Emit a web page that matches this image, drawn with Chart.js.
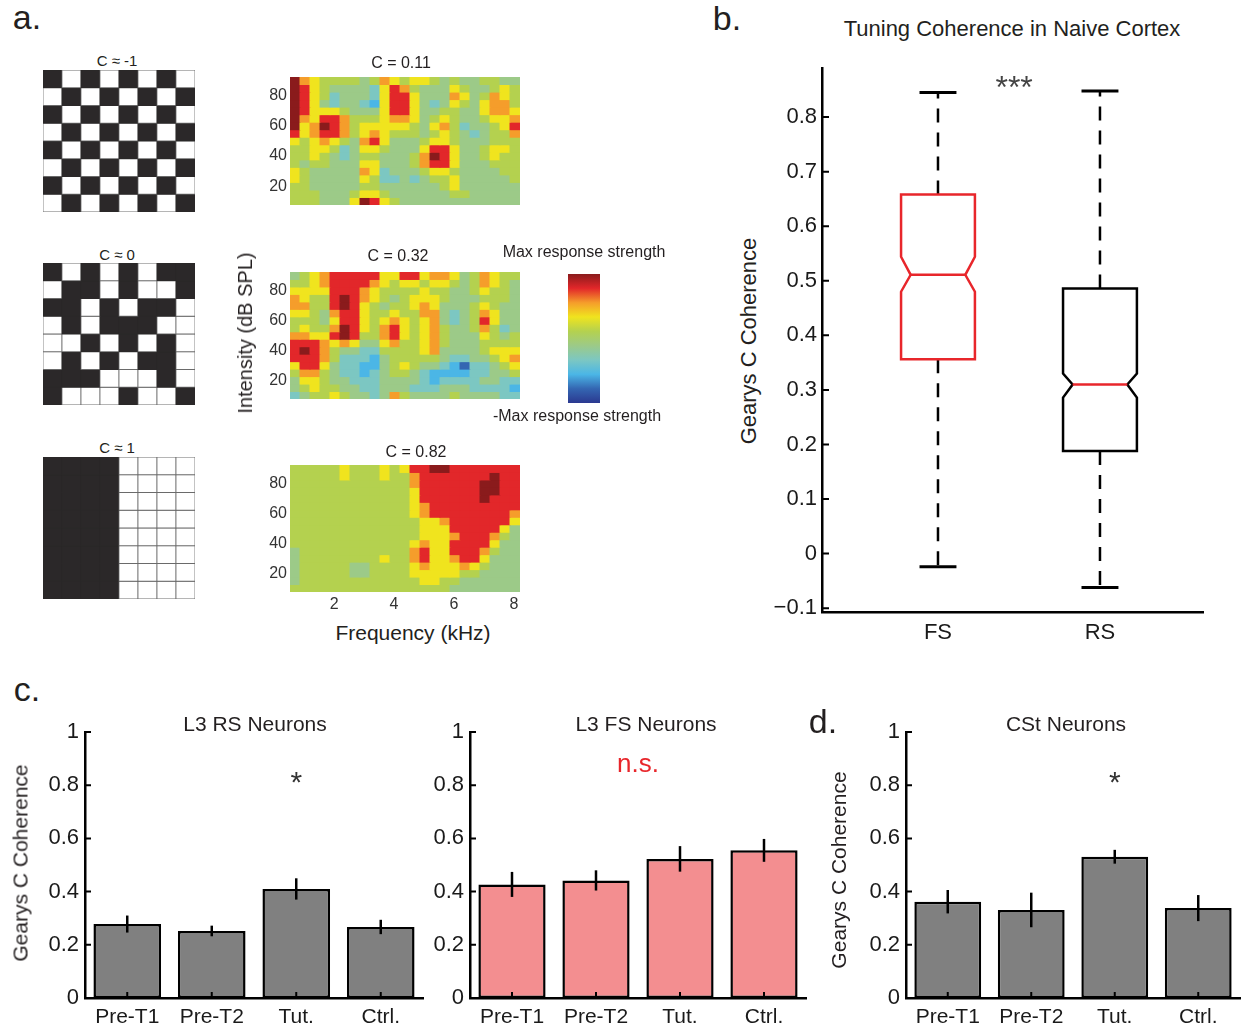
<!DOCTYPE html>
<html>
<head>
<meta charset="utf-8">
<script src="https://cdn.jsdelivr.net/npm/chart.js@4.4.0/dist/chart.umd.min.js"></script>
<style>
  body { margin: 0; width: 1244px; height: 1030px; position: relative; overflow: hidden; background: #fff;
         font-family: "Liberation Sans", Arial, sans-serif; }
  .box { position: absolute; }
  .t { position: absolute; white-space: nowrap; line-height: 1; color: #231f20; transform: translate(-50%, -50%); }
  .t.v { transform: translate(-50%, -50%) rotate(-90deg); }
</style>
</head>
<body>
<script>
// ---- panel a: example patterns (1 = black square)
const boardTitles = ['C \u2248 -1', 'C \u2248 0', 'C \u2248 1'];
const board1 = ['10101010', '01010101', '10101010', '01010101', '10101010', '01010101', '10101010', '01010101'];
const board2 = ['10101011', '01101001', '11010110', '01011100', '00101010', '01010110', '11100010', '10001001'];
const board3 = ['11110000', '11110000', '11110000', '11110000', '11110000', '11110000', '11110000', '11110000'];

// ---- panel a: tuning maps, colour level 0 (-max) .. 9 (+max), top row = 90 dB
const heatTitles = ['C = 0.11', 'C = 0.32', 'C = 0.82'];
const freqBins = ['0.70', '1.03', '1.36', '1.70', '2.03', '2.37', '2.70', '3.03', '3.37', '3.70', '4.04', '4.37',
                  '4.70', '5.04', '5.37', '5.70', '6.04', '6.37', '6.70', '7.04', '7.37', '7.70', '8.03'];
const dbLevels = [90, 85, 80, 75, 70, 65, 60, 55, 50, 45, 40, 35, 30, 25, 20, 15, 10];
const freqTicks = [2, 4, 6, 8];
const dbTicks = [20, 40, 60, 80];
const heat1 = [
  '97655 55457 65665 45445 544',
  '98654 44436 87544 46544 565',
  '98653 44436 88644 47645 765',
  '98643 44326 88643 46546 775',
  '98666 54446 88644 55446 776',
  '97688 75556 77645 65445 667',
  '96798 75666 66546 75344 568',
  '86788 75676 55545 65434 557',
  '65676 54786 44456 65444 555',
  '55665 34665 44468 86445 665',
  '55654 34554 44579 86445 655',
  '54554 44664 44578 86444 555',
  '65444 44763 44456 65444 455',
  '65444 44653 34345 56444 445',
  '55444 44554 44444 56444 444',
  '55544 45665 44444 45544 444',
  '55544 46986 54444 44444 444'
];
const heat2 = [
  '45678 88886 68867 76457 655',
  '55678 88876 56656 65457 654',
  '66668 88765 55565 54456 554',
  '76558 98765 45666 54445 554',
  '77558 98654 55676 44456 544',
  '66547 88655 65577 43457 644',
  '55546 88656 76567 43458 644',
  '56557 98657 86567 54457 534',
  '77668 98557 86567 54446 545',
  '88876 76446 75567 54445 555',
  '89875 44335 55567 44445 666',
  '88875 33324 55555 43344 567',
  '68864 33224 56544 32133 456',
  '57754 33234 55432 22233 445',
  '46654 43334 44432 33334 433',
  '45655 44334 44333 44433 332',
  '34556 54434 75444 45444 433'
];
const heat3 = [
  '55555 65556 56889 98888 888',
  '55555 65556 55788 88888 988',
  '55555 55555 55788 88889 988',
  '55555 55555 55688 88889 988',
  '55555 55555 55688 88889 888',
  '55555 55555 55678 88888 888',
  '55555 55555 55678 88888 887',
  '55555 55555 55566 78888 886',
  '55555 55555 55566 68888 864',
  '55555 55555 55566 67888 754',
  '55555 55555 55676 68888 644',
  '45555 55555 55786 68887 544',
  '45555 55556 55786 67886 444',
  '45555 54455 55676 66765 444',
  '45555 54455 55666 66554 444',
  '45555 55555 55566 55444 444',
  '55555 55555 55555 54444 444'
];
const cmap = ['#2b3990', '#3466b2', '#4bb6e6', '#7cc7c2', '#9cca88', '#b4d14f', '#f0e41e', '#f59d2b', '#e2272a', '#8a1b1c'];

// ---- panel b: box plot
const boxLabels = ['FS', 'RS'];
const boxLow = [-0.024, -0.062];
const boxQ1 = [0.356, 0.188];
const boxMed = [0.511, 0.310];
const boxQ3 = [0.658, 0.486];
const boxHigh = [0.845, 0.848];
const notchLo = [0.480, 0.286];
const notchHi = [0.544, 0.330];
const boxColors = ['#e8262b', '#000000'];
const boxTicks = [-0.1, 0, 0.1, 0.2, 0.3, 0.4, 0.5, 0.6, 0.7, 0.8];
const boxTickLabels = ['\u22120.1', '0', '0.1', '0.2', '0.3', '0.4', '0.5', '0.6', '0.7', '0.8'];

// ---- panels c, d: bar charts
const groups = ['Pre-T1', 'Pre-T2', 'Tut.', 'Ctrl.'];
const rsMean = [0.278, 0.252, 0.410, 0.267];
const rsErr = [0.032, 0.020, 0.040, 0.027];
const fsMean = [0.427, 0.442, 0.523, 0.555];
const fsErr = [0.047, 0.038, 0.048, 0.043];
const cstMean = [0.362, 0.331, 0.531, 0.338];
const cstErr = [0.044, 0.065, 0.026, 0.049];
const barTicks = [0, 0.1, 0.2, 0.3, 0.4, 0.5, 0.6, 0.7, 0.8, 0.9, 1];
const barTickLabels = ['0', '', '0.2', '', '0.4', '', '0.6', '', '0.8', '', '1'];

const FONT = '"Liberation Sans", Arial, sans-serif';
const ink = '#2b2829';

Chart.defaults.font.family = FONT;
Chart.defaults.color = '#1a1a1a';
Chart.defaults.animation = false;
Chart.defaults.events = [];
Chart.defaults.responsive = true;
Chart.defaults.maintainAspectRatio = false;
Chart.defaults.plugins.legend.display = false;
Chart.defaults.plugins.tooltip.enabled = false;

function place(left, top, w, h) {
  const d = document.createElement('div');
  d.className = 'box';
  d.style.cssText = `left:${left}px;top:${top}px;width:${w}px;height:${h}px`;
  const c = document.createElement('canvas');
  d.appendChild(c);
  document.body.appendChild(d);
  return c;
}

function txt(s, x, y, size, opts = {}) {
  const d = document.createElement('div');
  d.className = 't' + (opts.rot ? ' v' : '');
  d.textContent = s;
  d.style.left = x + 'px';
  d.style.top = y + 'px';
  d.style.fontSize = size + 'px';
  if (opts.color) d.style.color = opts.color;
  document.body.appendChild(d);
}

// matlab style ticks pointing into the plot
const inwardTicks = {
  id: 'inwardTicks',
  afterDraw(chart, args, o) {
    if (!o.len) return;
    const { ctx, chartArea, scales: { x, y } } = chart;
    ctx.save();
    ctx.strokeStyle = '#000';
    ctx.lineWidth = 2;
    ctx.beginPath();
    y.ticks.forEach(t => {
      const py = y.getPixelForValue(t.value);
      ctx.moveTo(chartArea.left, py);
      ctx.lineTo(chartArea.left + o.len, py);
    });
    if (o.x) {
      x.ticks.forEach((t, i) => {
        const px = x.getPixelForTick(i);
        ctx.moveTo(px, chartArea.bottom);
        ctx.lineTo(px, chartArea.bottom - o.len);
      });
    }
    ctx.stroke();
    ctx.restore();
  }
};

const errorBars = {
  id: 'errorBars',
  afterDatasetsDraw(chart, args, o) {
    const { ctx } = chart;
    const y = chart.scales.y;
    const values = chart.data.datasets[0].data;
    ctx.save();
    ctx.strokeStyle = '#000';
    ctx.lineWidth = 2.5;
    chart.getDatasetMeta(0).data.forEach((bar, i) => {
      ctx.beginPath();
      ctx.moveTo(bar.x, y.getPixelForValue(values[i] - o.errs[i]));
      ctx.lineTo(bar.x, y.getPixelForValue(values[i] + o.errs[i]));
      ctx.stroke();
    });
    ctx.restore();
  }
};

const marks = {
  id: 'marks',
  afterDraw(chart, args, o) {
    const { ctx, scales: { x, y } } = chart;
    (o.items || []).forEach(m => {
      ctx.save();
      ctx.font = `${m.size}px ${FONT}`;
      ctx.fillStyle = m.color;
      ctx.textAlign = 'center';
      ctx.textBaseline = 'alphabetic';
      const tm = ctx.measureText(m.text);
      const py = y.getPixelForValue(m.y) + (tm.actualBoundingBoxAscent - tm.actualBoundingBoxDescent) / 2;
      ctx.fillText(m.text, x.getPixelForValue(m.x), py);
      ctx.restore();
    });
  }
};

const notchedBoxes = {
  id: 'notchedBoxes',
  afterDatasetsDraw(chart, args, o) {
    const { ctx, scales: { x, y } } = chart;
    const py = v => y.getPixelForValue(v);
    ctx.save();
    boxLabels.forEach((lab, i) => {
      const cx = x.getPixelForValue(i + 1);
      const hw = x.getPixelForValue(i + 1 + o.halfWidth) - cx;
      const nw = hw * o.notch;
      ctx.strokeStyle = '#000';
      ctx.lineWidth = 2.5;
      ctx.setLineDash(o.dash);
      ctx.beginPath();
      ctx.moveTo(cx, py(boxQ3[i])); ctx.lineTo(cx, py(boxHigh[i]));
      ctx.moveTo(cx, py(boxQ1[i])); ctx.lineTo(cx, py(boxLow[i]));
      ctx.stroke();
      ctx.setLineDash([]);
      ctx.lineWidth = 3;
      ctx.beginPath();
      ctx.moveTo(cx - hw / 2, py(boxHigh[i])); ctx.lineTo(cx + hw / 2, py(boxHigh[i]));
      ctx.moveTo(cx - hw / 2, py(boxLow[i])); ctx.lineTo(cx + hw / 2, py(boxLow[i]));
      ctx.stroke();
      ctx.strokeStyle = boxColors[i];
      ctx.lineWidth = 2.5;
      ctx.fillStyle = '#fff';
      ctx.beginPath();
      ctx.moveTo(cx - hw, py(boxQ1[i]));
      ctx.lineTo(cx - hw, py(notchLo[i]));
      ctx.lineTo(cx - nw, py(boxMed[i]));
      ctx.lineTo(cx - hw, py(notchHi[i]));
      ctx.lineTo(cx - hw, py(boxQ3[i]));
      ctx.lineTo(cx + hw, py(boxQ3[i]));
      ctx.lineTo(cx + hw, py(notchHi[i]));
      ctx.lineTo(cx + nw, py(boxMed[i]));
      ctx.lineTo(cx + hw, py(notchLo[i]));
      ctx.lineTo(cx + hw, py(boxQ1[i]));
      ctx.closePath();
      ctx.fill();
      ctx.stroke();
      ctx.strokeStyle = '#e8262b';
      ctx.beginPath();
      ctx.moveTo(cx - nw, py(boxMed[i])); ctx.lineTo(cx + nw, py(boxMed[i]));
      ctx.stroke();
    });
    ctx.restore();
  }
};

// ---------- panel a
function board(rows, left, top) {
  const canvas = place(left, top, 152, 142);
  const n = rows.length;
  const datasets = rows.map((r, i) => {
    const cells = r.split('').map(Number);
    return {
      data: cells.map(() => [n - 1 - i, n - i]),
      backgroundColor: cells.map(c => c ? ink : '#fff'),
      borderColor: cells.map(c => c ? ink : '#6a6a6a')
    };
  });
  new Chart(canvas, {
    type: 'bar',
    data: { labels: rows[0].split('').map((c, i) => String(i + 1)), datasets },
    options: {
      layout: { padding: 0 },
      datasets: { bar: { grouped: false, barPercentage: 1, categoryPercentage: 1, borderWidth: 1,
                         borderSkipped: false, inflateAmount: 0.6 } },
      scales: { x: { display: false }, y: { display: false, min: 0, max: n } }
    }
  });
}

function heatmap(rows, top, h, showX) {
  const canvas = place(254, top - 14, 270, 14 + h + (showX ? 26 : 14));
  const datasets = rows.map((r, i) => {
    const vals = r.replace(/ /g, '').split('').map(Number);
    return {
      data: vals.map(() => [dbLevels[i] - 2.5, dbLevels[i] + 2.5]),
      backgroundColor: vals.map(v => cmap[v])
    };
  });
  new Chart(canvas, {
    type: 'bar',
    data: { labels: freqBins, datasets },
    options: {
      layout: { padding: { top: 14, right: 4, bottom: showX ? 0 : 14, left: 0 } },
      datasets: { bar: { grouped: false, barPercentage: 1, categoryPercentage: 1, borderWidth: 0, inflateAmount: 0.5 } },
      scales: {
        x: { display: false },
        kx: {
          type: 'linear', position: 'bottom', display: showX, min: 0.53, max: 8.2,
          offset: false, beginAtZero: false,
          afterBuildTicks: s => { s.ticks = freqTicks.map(v => ({ value: v })); },
          grid: { display: false, drawTicks: false, offset: false }, border: { display: false },
          ticks: { font: { size: 16 }, color: '#333', padding: 3 },
          afterFit: s => { if (showX) s.height = 26; }
        },
        y: {
          min: 7.5, max: 92.5,
          afterBuildTicks: s => { s.ticks = dbTicks.map(v => ({ value: v })); },
          grid: { display: false, drawTicks: false }, border: { display: false },
          ticks: { font: { size: 16 }, color: '#333', padding: 3 },
          afterFit: s => { s.width = 36; }
        }
      }
    }
  });
}

board(board1, 43, 70);
board(board2, 43, 263);
board(board3, 43, 457);
heatmap(heat1, 77, 128, false);
heatmap(heat2, 272, 127, false);
heatmap(heat3, 465, 127, true);

new Chart(place(568, 274, 32, 129), {
  type: 'bar',
  data: {
    labels: [''],
    datasets: [{
      data: [[0, 1]],
      backgroundColor: c => {
        const area = c.chart.chartArea;
        if (!area) return cmap[5];
        const g = c.chart.ctx.createLinearGradient(0, area.bottom, 0, area.top);
        cmap.forEach((col, i) => g.addColorStop(i / (cmap.length - 1), col));
        return g;
      },
      borderWidth: 0, barPercentage: 1, categoryPercentage: 1
    }]
  },
  options: { layout: { padding: 0 }, scales: { x: { display: false }, y: { display: false, min: 0, max: 1 } } }
});

// ---------- panel b
new Chart(place(770, 48, 453, 604), {
  type: 'scatter',
  data: { datasets: [] },
  options: {
    layout: { padding: { top: 20, right: 20, bottom: 0, left: 0 } },
    scales: {
      x: {
        type: 'linear', min: 0.284, max: 2.636,
        afterBuildTicks: s => { s.ticks = boxLabels.map((l, i) => ({ value: i + 1 })); },
        grid: { display: false, drawTicks: false }, border: { color: '#000', width: 2.5 },
        ticks: { font: { size: 22 }, padding: 8, callback: v => boxLabels[v - 1] },
        afterFit: s => { s.height = 40; }
      },
      y: {
        min: -0.107, max: 0.89,
        afterBuildTicks: s => { s.ticks = boxTicks.map(v => ({ value: v })); },
        grid: { display: false, drawTicks: false }, border: { color: '#000', width: 2.5 },
        ticks: { font: { size: 22 }, padding: 5, callback: (v, i) => boxTickLabels[i] },
        afterFit: s => { s.width = 52; }
      }
    },
    plugins: {
      notchedBoxes: { halfWidth: 0.228, notch: 0.74, dash: [14, 10] },
      inwardTicks: { len: 7, x: false },
      marks: { items: [{ x: 1.47, y: 0.865, text: '***', size: 32, color: '#444' }] }
    }
  },
  plugins: [notchedBoxes, inwardTicks, marks]
});

// ---------- panels c, d
function barPanel(axisLeft, width, means, errs, fill, items) {
  new Chart(place(axisLeft - 55, 712, width, 318), {
    type: 'bar',
    data: {
      labels: groups,
      datasets: [{
        data: means, backgroundColor: fill, borderColor: '#000', borderWidth: 2.5,
        borderSkipped: false, barPercentage: 0.8, categoryPercentage: 1
      }]
    },
    options: {
      layout: { padding: { top: 20, right: 4, bottom: 0, left: 0 } },
      scales: {
        x: {
          grid: { display: false, drawTicks: false }, border: { color: '#000', width: 2.5 },
          ticks: { font: { size: 21 }, padding: 7, maxRotation: 0 },
          afterFit: s => { s.height = 32; }
        },
        y: {
          min: 0, max: 1,
          afterBuildTicks: s => { s.ticks = barTicks.map(v => ({ value: v })); },
          grid: { display: false, drawTicks: false }, border: { color: '#000', width: 2.5 },
          ticks: { font: { size: 22 }, padding: 6, callback: (v, i) => barTickLabels[i] },
          afterFit: s => { s.width = 55; }
        }
      },
      plugins: {
        errorBars: { errs },
        inwardTicks: { len: 6, x: true },
        marks: { items }
      }
    },
    plugins: [errorBars, inwardTicks, marks]
  });
}

barPanel(85, 397, rsMean, rsErr, '#808080', [{ x: 2, y: 0.83, text: '*', size: 30, color: '#333' }]);
barPanel(470, 395, fsMean, fsErr, '#f38e90', [{ x: 1.5, y: 0.875, text: 'n.s.', size: 26, color: '#e8262b' }]);
barPanel(906, 393, cstMean, cstErr, '#808080', [{ x: 2, y: 0.83, text: '*', size: 30, color: '#333' }]);

// ---------- text
txt('a.', 27, 17, 34);
txt('b.', 727, 18, 34);
txt('c.', 27, 689, 34);
txt('d.', 823, 721, 34);
txt(boardTitles[0], 117, 60, 15);
txt(boardTitles[1], 117, 254, 15);
txt(boardTitles[2], 117, 447, 15);
txt(heatTitles[0], 401, 63, 16);
txt(heatTitles[1], 398, 256, 16);
txt(heatTitles[2], 416, 452, 16);
txt('Max response strength', 584, 252, 16);
txt('-Max response strength', 577, 416, 16);
txt('Intensity (dB SPL)', 245, 333, 20, { rot: true });
txt('Frequency (kHz)', 413, 632, 21);
txt('Tuning Coherence in Naive Cortex', 1012, 29, 22);
txt('Gearys C Coherence', 749, 341, 22, { rot: true });
txt('L3 RS Neurons', 255, 723, 21);
txt('L3 FS Neurons', 646, 723, 21);
txt('CSt Neurons', 1066, 723, 21);
txt('Gearys C Coherence', 20, 863, 21, { rot: true });
txt('Gearys C Coherence', 838, 870, 21, { rot: true });
</script>
</body>
</html>
